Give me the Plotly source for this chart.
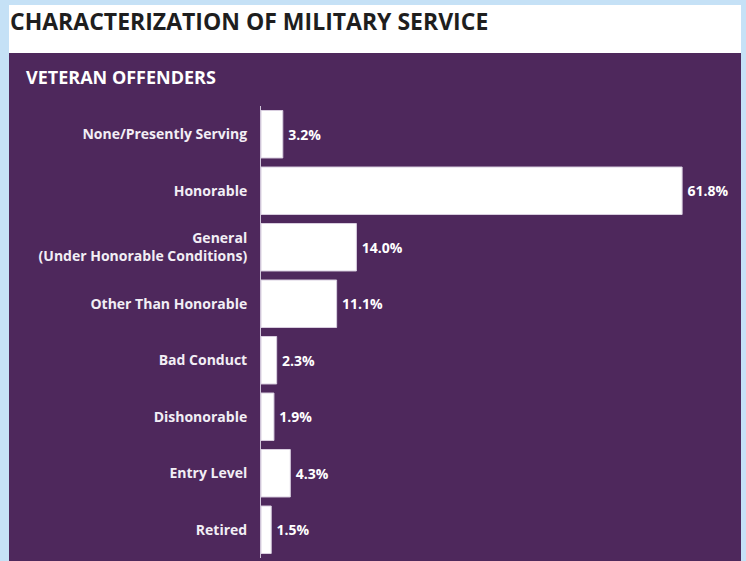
import plotly.graph_objects as go

# Data
categories = [
    "None/Presently Serving",
    "Honorable",
    "General<br>(Under Honorable Conditions)",
    "Other Than Honorable",
    "Bad Conduct",
    "Dishonorable",
    "Entry Level",
    "Retired",
]
percentages = [3.2, 61.8, 14.0, 11.1, 2.3, 1.9, 4.3, 1.5]

PURPLE = "#4e285c"
BORDER = "#c5e1f6"
FONT = "Open Sans"

W, H = 746, 561
ML, MR, MT, MB = 261, 8, 106, 3
pw = W - ML - MR
ph = H - MT - MB


# helpers to turn pixel positions into paper coordinates
def px_x(px):
    return (px - ML) / pw


def px_y(py):
    return 1 - (py - MT) / ph


fig = go.Figure()

fig.add_trace(go.Bar(
    x=percentages,
    y=categories,
    orientation="h",
    width=0.84,
    marker=dict(color="white", line=dict(color="#d9cfe0", width=1)),
    text=[f"\u2009{v:.1f}%" for v in percentages],
    textposition="outside",
    textfont=dict(family=FONT, size=14, color="white", weight="bold"),
    cliponaxis=False,
    hoverinfo="skip",
))

fig.update_layout(
    width=W,
    height=H,
    margin=dict(l=ML, r=MR, t=MT, b=MB),
    paper_bgcolor=BORDER,
    plot_bgcolor=PURPLE,
    showlegend=False,
    bargap=0.16,
    xaxis=dict(range=[0, 70], visible=False, fixedrange=True),
    yaxis=dict(
        autorange="reversed",
        showgrid=False,
        showline=True,
        linecolor="#cfc4d8",
        linewidth=1,
        ticks="",
        ticklabelstandoff=10,
        tickfont=dict(family=FONT, size=14, color="#f2eef5", weight="bold"),
        fixedrange=True,
    ),
    shapes=[
        # white header band
        dict(type="rect", xref="paper", yref="paper", layer="below",
             x0=px_x(9), x1=px_x(741), y0=px_y(53), y1=px_y(5),
             fillcolor="white", line=dict(width=0)),
        # purple panel
        dict(type="rect", xref="paper", yref="paper", layer="below",
             x0=px_x(9), x1=px_x(741), y0=px_y(H + 2), y1=px_y(53),
             fillcolor=PURPLE, line=dict(width=0)),
    ],
    annotations=[
        dict(text="CHARACTERIZATION OF MILITARY SERVICE",
             xref="paper", yref="paper", x=px_x(8), y=px_y(21),
             xanchor="left", yanchor="middle", showarrow=False,
             font=dict(family=FONT, size=23, color="#1e1e1e", weight="bold")),
        dict(text="VETERAN OFFENDERS",
             xref="paper", yref="paper", x=px_x(24), y=px_y(77),
             xanchor="left", yanchor="middle", showarrow=False,
             font=dict(family=FONT, size=18, color="white", weight="bold")),
    ],
)

fig.write_html("out.html", config={"displayModeBar": False},
               post_script="document.body.style.margin='0';")
